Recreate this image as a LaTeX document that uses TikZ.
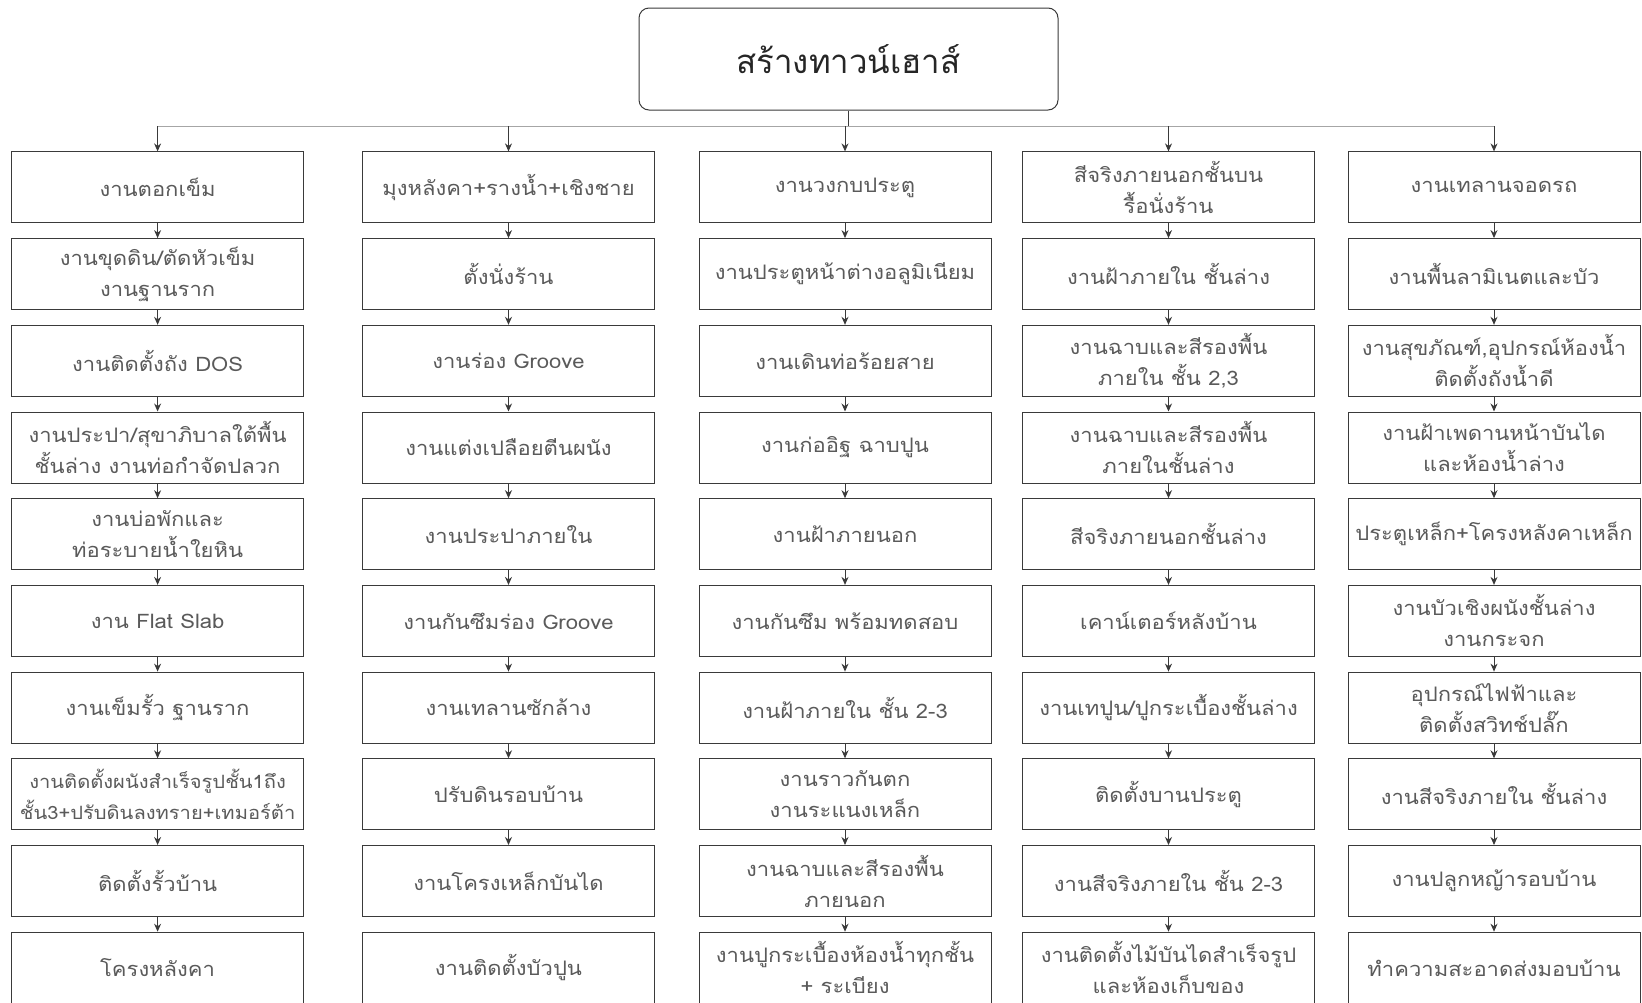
\documentclass[tikz,border=0pt]{standalone}
\usepackage{fontspec}
\newfontfamily\thaifont[Script=Thai,FakeStretch=1.1]{Loma}
\newfontfamily\thaititle[Script=Thai]{Loma}
\usetikzlibrary{arrows.meta}
\definecolor{txt}{HTML}{5A5A5A}
\definecolor{edge}{HTML}{3A3A3A}
\tikzset{
  box/.style={draw=edge, line width=1pt, minimum width=292pt, minimum height=71pt,
    inner sep=2pt, align=center, text=txt, font=\thaifont\fontsize{20}{31}\selectfont},
  tightbox/.style={box, inner sep=1pt, font=\thaifont\fontsize{18.3}{31}\selectfont},
  arr/.style={draw=edge, line width=1pt, -{Stealth[length=8pt,width=7pt]}},
  bus/.style={draw=gray!70, line width=1pt},
  titlebox/.style={draw=edge, line width=1pt, rounded corners=10pt, minimum width=419pt,
    minimum height=102pt, text=black!85, font=\thaititle\fontsize{33}{38}\selectfont}
}
\begin{document}
\begin{tikzpicture}[x=1pt,y=-1pt]
\useasboundingbox[fill=white] (0,0) rectangle (1642,1002);
\node[titlebox] (title) at (848.5,59) {สร้างทาวน์เฮาส์};
% column 1
\node[box] (a1) at (157.6,187.4) {งานตอกเข็ม};
\node[box] (a2) at (157.6,274.1) {งานขุดดิน/ตัดหัวเข็ม\\งานฐานราก};
\node[box] (a3) at (157.6,360.8) {งานติดตั้งถัง DOS};
\node[box] (a4) at (157.6,447.5) {งานประปา/สุขาภิบาลใต้พื้น\\ชั้นล่าง งานท่อกำจัดปลวก};
\node[box] (a5) at (157.6,534.2) {งานบ่อพักและ\\ท่อระบายน้ำใยหิน};
\node[box] (a6) at (157.6,620.9) {งาน Flat Slab};
\node[box] (a7) at (157.6,707.6) {งานเข็มรั้ว ฐานราก};
\node[tightbox] (a8) at (157.6,794.3) {งานติดตั้งผนังสำเร็จรูปชั้น1ถึง\\ชั้น3+ปรับดินลงทราย+เทมอร์ต้า};
\node[box] (a9) at (157.6,881.0) {ติดตั้งรั้วบ้าน};
\node[box] (a10) at (157.6,967.7) {โครงหลังคา};
% column 2
\node[box] (b1) at (508.5,187.4) {มุงหลังคา+รางน้ำ+เชิงชาย};
\node[box] (b2) at (508.5,274.1) {ตั้งนั่งร้าน};
\node[box] (b3) at (508.5,360.8) {งานร่อง Groove};
\node[box] (b4) at (508.5,447.5) {งานแต่งเปลือยตีนผนัง};
\node[box] (b5) at (508.5,534.2) {งานประปาภายใน};
\node[box] (b6) at (508.5,620.9) {งานกันซึมร่อง Groove};
\node[box] (b7) at (508.5,707.6) {งานเทลานซักล้าง};
\node[box] (b8) at (508.5,794.3) {ปรับดินรอบบ้าน};
\node[box] (b9) at (508.5,881.0) {งานโครงเหล็กบันได};
\node[box] (b10) at (508.5,967.7) {งานติดตั้งบัวปูน};
% column 3
\node[box] (c1) at (845,187.4) {งานวงกบประตู};
\node[box] (c2) at (845,274.1) {งานประตูหน้าต่างอลูมิเนียม};
\node[box] (c3) at (845,360.8) {งานเดินท่อร้อยสาย};
\node[box] (c4) at (845,447.5) {งานก่ออิฐ ฉาบปูน};
\node[box] (c5) at (845,534.2) {งานฝ้าภายนอก};
\node[box] (c6) at (845,620.9) {งานกันซึม พร้อมทดสอบ};
\node[box] (c7) at (845,707.6) {งานฝ้าภายใน ชั้น 2-3};
\node[box] (c8) at (845,794.3) {งานราวกันตก\\งานระแนงเหล็ก};
\node[box] (c9) at (845,881.0) {งานฉาบและสีรองพื้น\\ภายนอก};
\node[box] (c10) at (845,967.7) {งานปูกระเบื้องห้องน้ำทุกชั้น\\+ ระเบียง};
% column 4
\node[box] (d1) at (1168.5,187.4) {สีจริงภายนอกชั้นบน\\รื้อนั่งร้าน};
\node[box] (d2) at (1168.5,274.1) {งานฝ้าภายใน ชั้นล่าง};
\node[box] (d3) at (1168.5,360.8) {งานฉาบและสีรองพื้น\\ภายใน ชั้น 2,3};
\node[box] (d4) at (1168.5,447.5) {งานฉาบและสีรองพื้น\\ภายในชั้นล่าง};
\node[box] (d5) at (1168.5,534.2) {สีจริงภายนอกชั้นล่าง};
\node[box] (d6) at (1168.5,620.9) {เคาน์เตอร์หลังบ้าน};
\node[box] (d7) at (1168.5,707.6) {งานเทปูน/ปูกระเบื้องชั้นล่าง};
\node[box] (d8) at (1168.5,794.3) {ติดตั้งบานประตู};
\node[box] (d9) at (1168.5,881.0) {งานสีจริงภายใน ชั้น 2-3};
\node[box] (d10) at (1168.5,967.7) {งานติดตั้งไม้บันไดสำเร็จรูป\\และห้องเก็บของ};
% column 5
\node[box] (e1) at (1494,187.4) {งานเทลานจอดรถ};
\node[box] (e2) at (1494,274.1) {งานพื้นลามิเนตและบัว};
\node[box] (e3) at (1494,360.8) {งานสุขภัณฑ์,อุปกรณ์ห้องน้ำ\\ติดตั้งถังน้ำดี};
\node[box] (e4) at (1494,447.5) {งานฝ้าเพดานหน้าบันได\\และห้องน้ำล่าง};
\node[box] (e5) at (1494,534.2) {ประตูเหล็ก+โครงหลังคาเหล็ก};
\node[box] (e6) at (1494,620.9) {งานบัวเชิงผนังชั้นล่าง\\งานกระจก};
\node[box] (e7) at (1494,707.6) {อุปกรณ์ไฟฟ้าและ\\ติดตั้งสวิทช์ปลั๊ก};
\node[box] (e8) at (1494,794.3) {งานสีจริงภายใน ชั้นล่าง};
\node[box] (e9) at (1494,881.0) {งานปลูกหญ้ารอบบ้าน};
\node[box] (e10) at (1494,967.7) {ทำความสะอาดส่งมอบบ้าน};
% bus
\coordinate (busL) at (157.6,126);
\coordinate (busR) at (1494,126);
\draw[bus] (busL) -- (busR);
\draw[edge, line width=1pt] (title.south) -- (title.south |- busL);
\foreach \c in {a,b,c,d,e} {
  \draw[arr] (\c1.north |- busL) -- (\c1.north);
}
\foreach \c in {a,c,d,e} {
  \foreach \i [evaluate=\i as \j using int(\i+1)] in {1,...,9} {
    \draw[arr] (\c\i.south) -- (\c\j.north);
  }
}
\foreach \i [evaluate=\i as \j using int(\i+1)] in {1,...,8} {
  \draw[arr] (b\i.south) -- (b\j.north);
}
\end{tikzpicture}
\end{document}
